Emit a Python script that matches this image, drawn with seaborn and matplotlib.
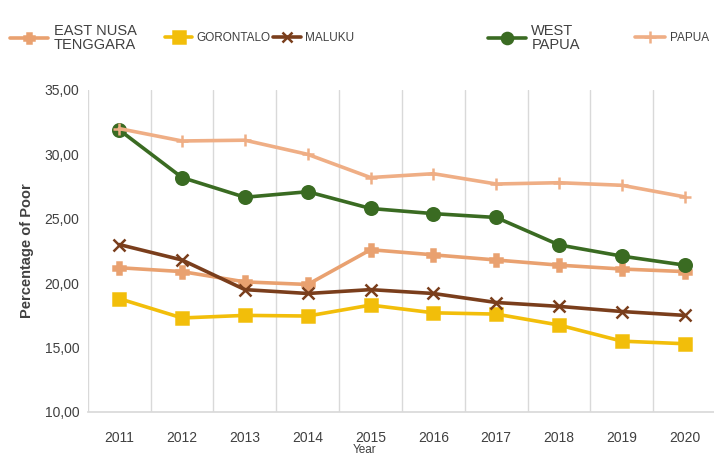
import matplotlib
matplotlib.use("Agg")
import matplotlib.pyplot as plt
import seaborn as sns
import pandas as pd
import numpy as np
from matplotlib.lines import Line2D

years = ["2011", "2012", "2013", "2014", "2015", "2016", "2017", "2018", "2019", "2020"]
east_nusa_tenggara = [21.2, 20.9, 20.1, 19.9, 22.6, 22.2, 21.8, 21.4, 21.1, 20.9]
gorontalo = [18.8, 17.3, 17.5, 17.45, 18.3, 17.7, 17.6, 16.75, 15.5, 15.3]
maluku = [23.0, 21.8, 19.5, 19.2, 19.5, 19.2, 18.5, 18.2, 17.8, 17.5]
west_papua = [31.9, 28.2, 26.67, 27.1, 25.8, 25.4, 25.1, 22.97, 22.1, 21.4]
papua = [32.0, 31.04, 31.1, 30.0, 28.2, 28.5, 27.7, 27.8, 27.6, 26.7]

series = [
    ("EAST NUSA\nTENGGARA", east_nusa_tenggara, "#E9A170", "P", 8),
    ("GORONTALO", gorontalo, "#F2BE0A", "s", 9),
    ("MALUKU", maluku, "#7A3E1C", "x", 8),
    ("WEST\nPAPUA", west_papua, "#3A6B22", "o", 9),
    ("PAPUA", papua, "#EFAE85", "+", 9),
]

sns.set_theme(style="white")
plt.rcParams['font.family'] = ['Liberation Sans Narrow', 'Liberation Sans', 'DejaVu Sans']

fig = plt.figure(figsize=(7.14, 4.59), dpi=100)
ax = fig.add_axes([0.123, 0.1024, 0.88, 0.7016])

xs = np.arange(len(years))
for name, vals, color, marker, ms in series:
    df = pd.DataFrame({"x": xs, "y": vals})
    sns.lineplot(data=df, x="x", y="y", ax=ax, color=color, linewidth=2.6,
                 marker=marker, markersize=ms, markeredgecolor=color,
                 markeredgewidth=1.8, legend=False)

ax.set_xlim(-0.5, 9.5)
ax.set_ylim(10, 35)
ax.set_xticks(xs)
ax.set_xticklabels(years, fontsize=10, color="#404040")
ax.set_yticks([10, 15, 20, 25, 30, 35])
ax.set_yticklabels(["10,00", "15,00", "20,00", "25,00", "30,00", "35,00"], fontsize=10, color="#404040")
ax.set_xticks(np.arange(-0.5, 10, 1), minor=True)
ax.grid(False)
ax.grid(True, which="minor", axis="x", color="#D9D9D9", linewidth=1)
ax.tick_params(axis="both", which="both", length=0)
ax.tick_params(axis="x", pad=14)
ax.tick_params(axis="y", pad=6)
for s in ["top", "right", "left"]:
    ax.spines[s].set_visible(False)
ax.spines["bottom"].set_color("#D9D9D9")
ax.set_xlabel("")
ax.set_ylabel("Percentage of Poor", fontsize=10.5, fontweight="bold", color="#404040", labelpad=8)
fig.text(0.511, 0.013, "Year", fontsize=8.5, color="#404040", ha="center")

# legend entries positioned individually
legend_pos = [0.014, 0.231, 0.383, 0.683, 0.889]
legend_fs = [10.5, 8.5, 8.5, 10.5, 8.5]
legend_hl = [2.6, 2.3, 2.3, 2.6, 2.6]
for (name, vals, color, marker, ms), xpos, fs, hl in zip(series, legend_pos, legend_fs, legend_hl):
    h = Line2D([0], [0], color=color, linewidth=2.6, marker=marker, markersize=ms - 1,
               markeredgecolor=color, markeredgewidth=1.8)
    leg = fig.legend([h], [name], loc="center left", bbox_to_anchor=(xpos, 0.918),
                     frameon=False, fontsize=fs, handlelength=hl, handletextpad=0.4,
                     borderaxespad=0, borderpad=0)
    for t in leg.get_texts():
        t.set_color("#404040")
        t.set_linespacing(1.0)

fig.savefig("out.png", dpi=100)
